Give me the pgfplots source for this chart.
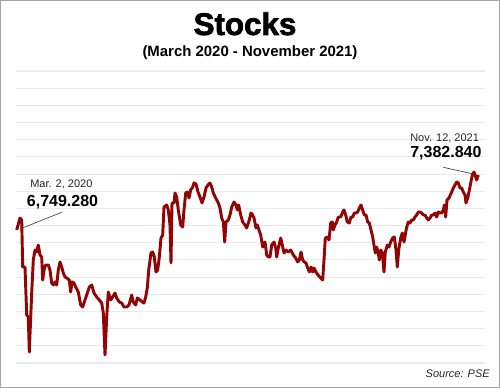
\documentclass[border=0pt]{standalone}
\usepackage{pgfplots}
\pgfplotsset{compat=1.18}
\usepackage{fontspec}
\setmainfont{Liberation Sans}
\newfontfamily\titlefont[FakeBold=2.2]{Liberation Sans Bold}
\definecolor{linered}{RGB}{145,5,5}
\definecolor{gridc}{RGB}{234,234,234}
\definecolor{frame}{RGB}{165,165,165}
\begin{document}
\begin{tikzpicture}[x=1pt,y=1pt]
\useasboundingbox (0,0) rectangle (375,291);
\begin{axis}[
  at={(12pt,18.75pt)}, anchor=south west,
  scale only axis, width=351.75pt, height=219pt,
  xmin=16, xmax=485, ymin=5153, ymax=8657,
  axis line style={draw=none}, tick style={draw=none}, clip=false,
  xtick=\empty,
  ytick={5153,5359,5565,5771,5977,6184,6390,6596,6802,7008,7214,7420,7626,7832,8038,8244,8451,8657},
  yticklabels={},
  ymajorgrids, major grid style={gridc, line width=0.8pt},
]
\addplot[linered, line width=2.2pt, line join=round, no marks] coordinates {
(16.7,6749) (20,6893) (21.7,6869) (22.7,6305) (25,6305) (26.7,5729) (28.3,5705) (29.3,5285)
(31.7,5993) (33.3,6389) (35,6509) (36.7,6485) (38.3,6569) (40,6449) (41.7,6425) (42.7,6149)
(44,6269) (45.7,6329) (48.3,6329) (50,6269) (51.7,6113) (53.3,6089) (55,6125) (56.7,6089)
(58.3,6269) (60,6365) (61.7,6305) (63.3,6233) (65,6185) (66.7,6173) (69.3,6149) (70.7,6005)
(72,6125) (74,6113) (75.7,6065) (78.3,6005) (80.7,5849) (82.7,5825) (85,5909) (87.3,5993)
(89.3,6065) (91.7,6089) (94,5993) (96.7,5945) (99.3,5909) (101.7,5873) (103.3,5753) (105,5249)
(106.7,5705) (108.3,6005) (110.7,5909) (112.7,5945) (115,5993) (116.7,5933) (119.3,5885) (121.7,5873)
(124,5825) (126.7,5825) (129,5849) (131.7,5969) (133.3,5885) (135.7,5849) (137.3,5933) (140,5909)
(142.3,5885) (144,5873) (145.7,5945) (147.3,6053) (148.7,6269) (151,6473) (152.7,6485) (154.3,6425)
(156,6245) (157.7,6269) (159.3,6425) (161,6653) (162.7,6689) (164,7025) (166.7,7049) (168.3,6989)
(170,6809) (171,6353) (172,7073) (174,7073) (175,7193) (176.7,7145) (178.3,6989) (180.7,6809)
(182.7,6785) (184,6989) (185.7,7193) (187.3,7205) (189,7133) (190.7,7229) (192.7,7265) (194,7313)
(196,7301) (198,7205) (200,7145) (202,7073) (204,7145) (206,7253) (208,7289) (210,7313)
(211.7,7265) (213.3,7193) (215.7,7133) (218.3,7073) (220,7013) (221.7,6893) (223.3,6845) (224.7,6605)
(226,6845) (228.3,6869) (230,6929) (231.7,7025) (234,7085) (236,7049) (237.3,6989) (238.7,7049)
(240.7,6929) (242.7,6845) (245,6809) (246.7,6773) (249.3,6869) (251,6953) (252.7,6929) (254,6893)
(256,6773) (257.3,6809) (259,6749) (260.7,6689) (262.7,6545) (265,6605) (266.7,6449) (268.3,6425)
(270,6425) (271.7,6569) (274,6605) (275.7,6533) (276.7,6425) (278.3,6533) (280.7,6653) (282.3,6569)
(284,6473) (286,6509) (288.3,6485) (290.7,6509) (293.3,6449) (295.7,6413) (297.7,6365) (299.3,6389)
(301,6485) (302.7,6389) (304.3,6365) (306,6353) (307.7,6293) (309.3,6245) (311,6305) (312.7,6245)
(314,6293) (316,6245) (318,6209) (320.7,6173) (322.7,6149) (324,6389) (325.3,6653) (327.3,6665)
(329,6629) (330.7,6833) (332.3,6845) (333.3,6749) (335,6809) (336.7,6845) (338.3,6905) (340.7,6905)
(342.7,6965) (344,6989) (345.7,6929) (347.3,6845) (349.3,6833) (351,6905) (352.7,6905) (354.3,6953)
(356,6953) (357.7,6965) (359.3,7013) (361,7049) (362.7,6989) (364.3,6929) (366,6929) (367.7,6845)
(369.3,6833) (371,6749) (372.7,6665) (374.3,6545) (375.3,6473) (376.7,6545) (378.3,6473) (379.3,6389)
(380.7,6509) (382.3,6473) (384,6245) (385.3,6485) (387.3,6569) (389,6545) (390.7,6605) (392.7,6653)
(394.3,6665) (396,6509) (397.3,6305) (398.7,6509) (400.7,6653) (402.3,6713) (404,6605) (406.5,6773)
(408.3,6845) (410,6833) (411.7,6869) (413.3,6869) (415,6905) (416.7,6929) (418.3,6965) (420,6965)
(421.7,6953) (423.3,6929) (425,6929) (426.7,6893) (428.3,6869) (430,6893) (431.7,6929) (433.3,6929)
(435,6953) (436.7,6905) (438.3,6965) (440,6953) (441.7,6953) (443.3,6989) (444.3,7049) (445.7,6905)
(447,7109) (449,7133) (450.3,7169) (451.7,7205) (453.3,7253) (455,7289) (456.7,7325) (458.3,7313)
(460,7253) (461.7,7253) (463.3,7205) (465,7169) (466,7073) (467.7,7133) (469,7205) (470.7,7313)
(472.3,7409) (474,7445) (475.7,7385) (476.7,7349) (478.3,7409)
};
\end{axis}
% frame
\draw[frame, line width=1.1pt] (0.55,0.55) rectangle (374.45,290.45);
% titles
\node[anchor=base, inner sep=0pt, font=\titlefont\fontsize{23.5}{26}\selectfont] at (183.75,264.75) {Stocks};
\node[anchor=base, inner sep=0pt, font=\bfseries\fontsize{11.2}{13}\selectfont] at (187.5,248.25) {(March 2020 - November 2021)};
% annotations
\draw[black!75, line width=0.5pt] (46.3,131.8) -- (15,119.25);
\draw[black!75, line width=0.5pt] (332.5,165.5) -- (355,160.5);
\node[anchor=base west, inner sep=0pt, font=\fontsize{8.25}{10}\selectfont, text=black!85] at (22.5,150) {Mar. 2, 2020};
\node[anchor=base west, inner sep=0pt, font=\bfseries\fontsize{12}{14}\selectfont] at (20,136) {6,749.280};
\node[anchor=base west, inner sep=0pt, font=\fontsize{8.25}{10}\selectfont, text=black!85] at (307.5,184.7) {Nov. 12, 2021};
\node[anchor=base west, inner sep=0pt, font=\bfseries\fontsize{12}{14}\selectfont] at (307.5,172.5) {7,382.840};
\node[anchor=base east, inner sep=0pt, font=\itshape\fontsize{8.25}{10}\selectfont, text=black!85] at (367.5,7.5) {Source: PSE};
\end{tikzpicture}
\end{document}
